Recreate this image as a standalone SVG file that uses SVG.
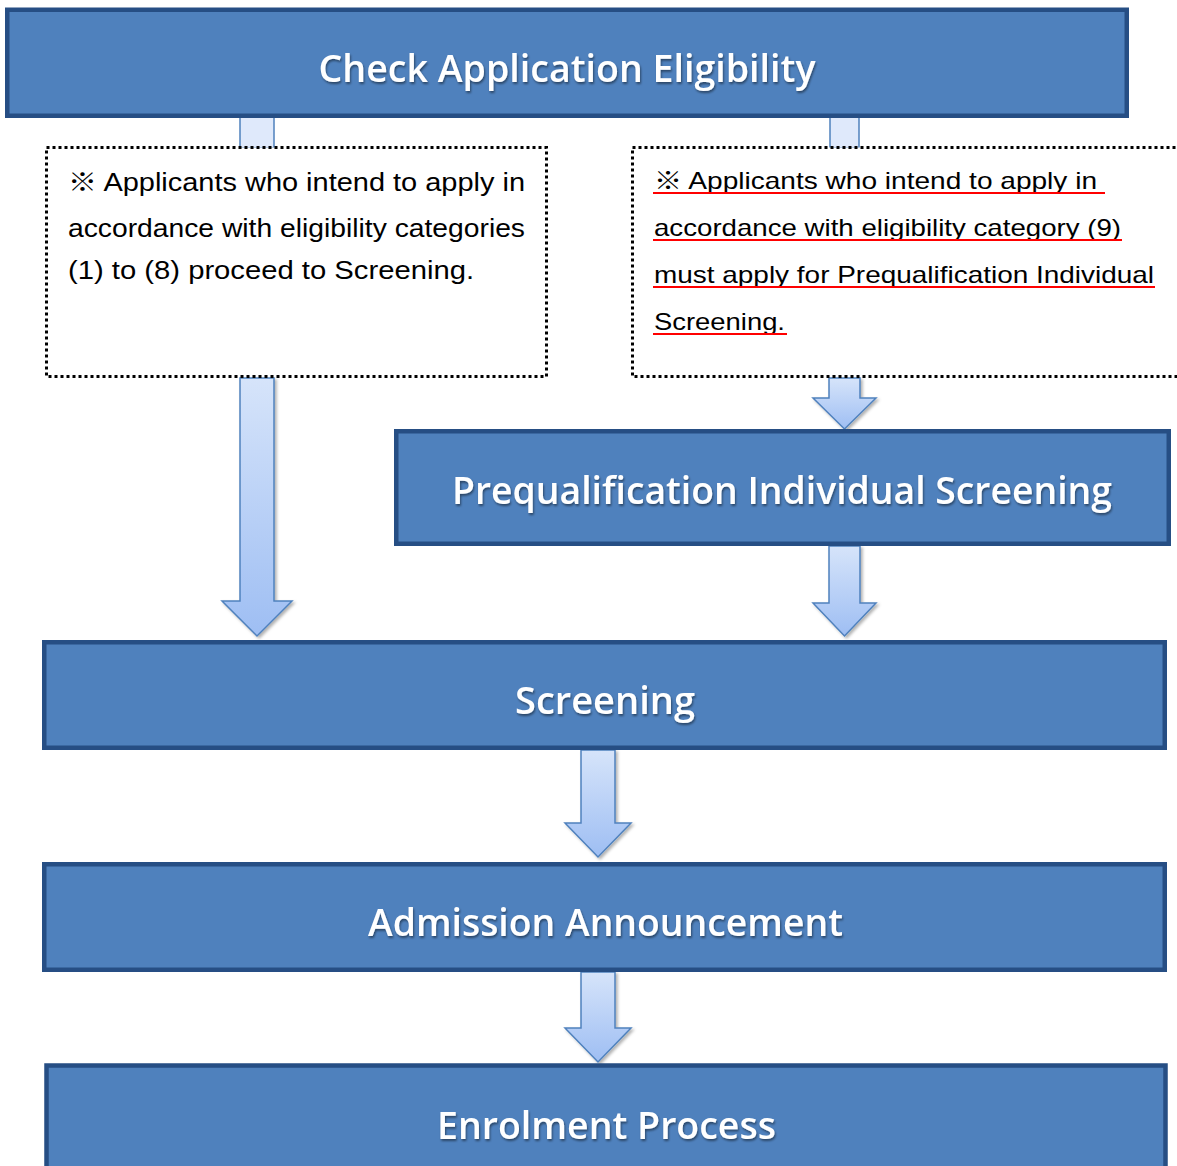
<svg xmlns="http://www.w3.org/2000/svg" width="1177" height="1166" viewBox="0 0 1177 1166">
<defs>
<style>
.box{fill:#4F81BD;stroke:#264E84;stroke-width:4.5}
.title{font-family:"Open Sans","Noto Sans",sans-serif;font-size:38px;font-weight:600;fill:#fff;text-anchor:middle;filter:url(#ts)}
.note{fill:#fff;stroke:#000;stroke-width:3;stroke-dasharray:3 3}
.nt{font-family:"Liberation Sans","Noto Sans CJK JP",sans-serif;font-size:25px;fill:#000}
.nt2{font-family:"Liberation Sans","Noto Sans CJK JP",sans-serif;font-size:24px;fill:#000}
.ul{stroke:#FF0000;stroke-width:2}
.arrow{fill:url(#ag);stroke:#4F81BD;stroke-width:1.5;stroke-linejoin:miter;filter:url(#as)}
.stub{fill:#DFE9FB;stroke:#4F81BD;stroke-width:1.5}
</style>
<linearGradient id="ag" x1="0" y1="0" x2="0" y2="1">
<stop offset="0" stop-color="#D6E4FA"/>
<stop offset="1" stop-color="#9EBEF3"/>
</linearGradient>
<filter id="ts" x="-5%" y="-30%" width="110%" height="160%">
<feDropShadow dx="1" dy="2" stdDeviation="1.2" flood-color="#000" flood-opacity="0.45"/>
</filter>
<filter id="as" x="-30%" y="-10%" width="160%" height="130%">
<feDropShadow dx="2" dy="2" stdDeviation="1.5" flood-color="#000" flood-opacity="0.3"/>
</filter>
</defs>
<rect width="1177" height="1166" fill="#fff"/>

<g id="connectors">
<rect class="stub" x="240" y="117" width="34" height="31"/>
<rect class="stub" x="830" y="117" width="29" height="31"/>
<polygon class="arrow" points="240,378 274,378 274,601 292,601 257,636 222,601 240,601"/>
<polygon class="arrow" points="829,378 860,378 860,398 876,398 844.5,429 813,398 829,398"/>
<polygon class="arrow" points="829,546 860,546 860,603 876,603 844.5,636 813,603 829,603"/>
<polygon class="arrow" points="581,750 615,750 615,823 631,823 598,857 565,823 581,823"/>
<polygon class="arrow" points="581,972 615,972 615,1028 631,1028 598,1062 565,1028 581,1028"/>
</g>

<g id="check-eligibility">
<rect class="box" x="7.25" y="9.75" width="1119.5" height="106"/>
<text class="title" x="567" y="82" textLength="497" lengthAdjust="spacingAndGlyphs">Check Application Eligibility</text>
</g>

<g id="note-left">
<rect class="note" x="46.5" y="147.5" width="500" height="229"/>
<text class="nt" x="68" y="191" textLength="457" lengthAdjust="spacingAndGlyphs">※ Applicants who intend to apply in</text>
<text class="nt" x="68" y="237" textLength="457" lengthAdjust="spacingAndGlyphs">accordance with eligibility categories</text>
<text class="nt" x="68" y="279" textLength="406" lengthAdjust="spacingAndGlyphs">(1) to (8) proceed to Screening.</text>
</g>

<g id="note-right">
<rect class="note" x="632.5" y="147.5" width="560" height="229"/>
<text class="nt2" x="654" y="189" textLength="443" lengthAdjust="spacingAndGlyphs">※ Applicants who intend to apply in</text>
<text class="nt2" x="654" y="236" textLength="467" lengthAdjust="spacingAndGlyphs">accordance with eligibility category (9)</text>
<text class="nt2" x="654" y="283" textLength="500" lengthAdjust="spacingAndGlyphs">must apply for Prequalification Individual</text>
<text class="nt2" x="654" y="330" textLength="131" lengthAdjust="spacingAndGlyphs">Screening.</text>
<line class="ul" x1="653" y1="193" x2="1105" y2="193"/>
<line class="ul" x1="653" y1="240" x2="1122" y2="240"/>
<line class="ul" x1="653" y1="287" x2="1155" y2="287"/>
<line class="ul" x1="653" y1="334" x2="787" y2="334"/>
</g>

<g id="prequalification">
<rect class="box" x="396.25" y="431.25" width="772.5" height="112.5"/>
<text class="title" x="782" y="504" textLength="660" lengthAdjust="spacingAndGlyphs">Prequalification Individual Screening</text>
</g>

<g id="screening">
<rect class="box" x="44.25" y="642.25" width="1120.5" height="105.5"/>
<text class="title" x="605" y="714" textLength="180" lengthAdjust="spacingAndGlyphs">Screening</text>
</g>

<g id="admission">
<rect class="box" x="44.25" y="864.25" width="1120.5" height="105.5"/>
<text class="title" x="605.5" y="936" textLength="475" lengthAdjust="spacingAndGlyphs">Admission Announcement</text>
</g>

<g id="enrolment">
<rect class="box" x="46.5" y="1065.5" width="1119" height="120"/>
<text class="title" x="606.5" y="1139" textLength="339" lengthAdjust="spacingAndGlyphs">Enrolment Process</text>
</g>
</svg>
